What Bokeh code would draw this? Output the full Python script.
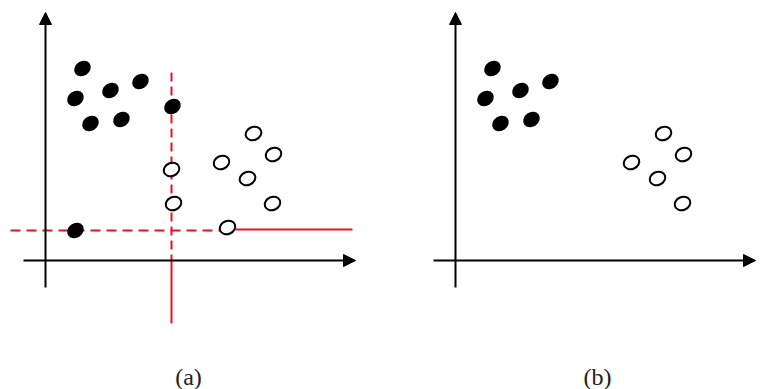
from bokeh.plotting import figure
from bokeh.layouts import row
from bokeh.models import Range1d, Arrow, NormalHead
from bokeh.core.properties import value
from bokeh.embed import file_html
from bokeh.resources import INLINE

# ---- data (units measured from each panel's origin) ----
filled_x = [37, 30, 65, 95, 45, 76]
filled_y = [192, 162, 170, 179, 137, 141]
open_x = [208, 228, 176, 202, 227]
open_y = [127, 106, 98, 82, 57]

# extra points only visible in panel (a), lying on the split lines
extra_filled_x = [127, 30]
extra_filled_y = [154, 30]
extra_open_x = [126, 128, 182]
extra_open_y = [91, 57, 33]

split_x = 126
split_y = 30

captions = ["(a)", "(b)"]


def make_panel(xr, yr, axis_x_end, show_split, caption, cap_x):
    p = figure(width=380, height=389, x_range=Range1d(*xr), y_range=Range1d(*yr),
               output_backend="svg", toolbar_location=None, min_border=0)
    p.axis.visible = False
    p.grid.visible = False
    p.outline_line_color = None
    p.background_fill_color = "white"

    # axes with arrows
    p.add_layout(Arrow(end=NormalHead(size=12, fill_color="black", line_color="black"),
                       x_start=0, y_start=-27, x_end=0, y_end=248,
                       line_color="black", line_width=2))
    p.add_layout(Arrow(end=NormalHead(size=12, fill_color="black", line_color="black"),
                       x_start=-22, y_start=0, x_end=axis_x_end, y_end=0,
                       line_color="black", line_width=2))

    if show_split:
        # vertical split line
        p.line([split_x, split_x], [188, 0], line_color="#ee1122", line_width=2, line_dash="9 5")
        p.line([split_x, split_x], [0, -63], line_color="#ee1122", line_width=2)
        # horizontal split line
        p.line([-35, 182], [split_y, split_y], line_color="#ee1122", line_width=2, line_dash="10 6")
        p.line([190, 307], [split_y + 1, split_y + 1], line_color="#ee1122", line_width=2)

    fx = list(filled_x) + (extra_filled_x if show_split else [])
    fy = list(filled_y) + (extra_filled_y if show_split else [])
    ox = list(open_x) + (extra_open_x if show_split else [])
    oy = list(open_y) + (extra_open_y if show_split else [])

    p.ellipse(x=fx, y=fy, width=16, height=13, angle=0.6,
              width_units="screen", height_units="screen",
              fill_color="black", line_color="black", line_width=1.5)
    p.ellipse(x=ox, y=oy, width=16, height=13, angle=0.4,
              width_units="screen", height_units="screen",
              fill_color="white", line_color="black", line_width=2)

    p.text(x=[cap_x], y=[-116], text=[caption], text_align="center", text_baseline="middle",
           text_font=value("Liberation Serif"), text_font_size="24px", text_color="#222222")
    return p


pa = make_panel((-45, 335), (-129, 260), 310, True, captions[0], 143)
pb = make_panel((-75, 305), (-129, 260), 300, False, captions[1], 142)

layout = row(pa, pb)
open("out.html", "w").write(file_html(layout, INLINE))
